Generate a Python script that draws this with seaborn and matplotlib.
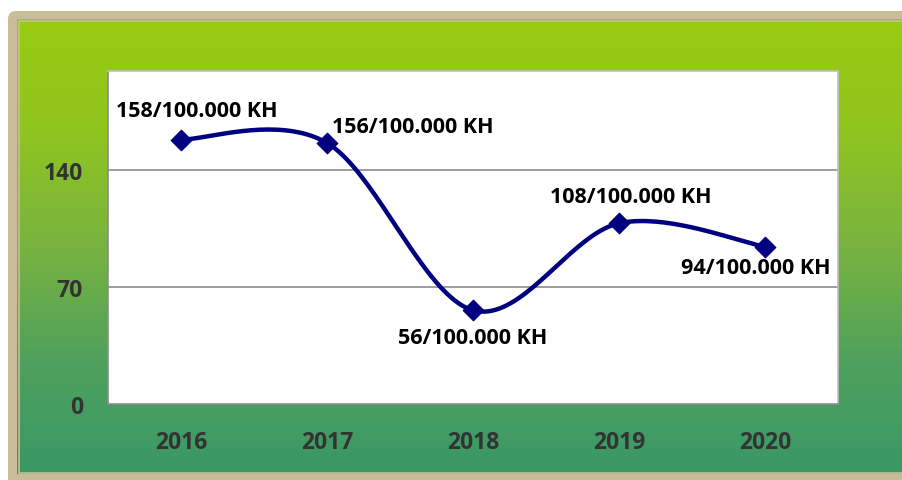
import numpy as np
import pandas as pd
import matplotlib
matplotlib.use("Agg")
import matplotlib.pyplot as plt
import seaborn as sns
from matplotlib.patches import Rectangle, FancyBboxPatch

years = ["2016", "2017", "2018", "2019", "2020"]
rates = [158, 156, 56, 108, 94]
labels = ["158/100.000 KH", "156/100.000 KH", "56/100.000 KH", "108/100.000 KH", "94/100.000 KH"]
yticks = [0, 70, 140]

df = pd.DataFrame({"year": years, "rate": rates})
df["pos"] = np.arange(len(df))

sns.set_theme(style="white")
plt.rcParams["font.family"] = ["Open Sans", "DejaVu Sans"]

W, H = 903, 481
fig = plt.figure(figsize=(W / 100, H / 100), dpi=100)
fig.patch.set_facecolor("white")

# background: frame + gradient
bg = fig.add_axes([0, 0, 1, 1])
bg.set_xlim(0, W)
bg.set_ylim(H, 0)
bg.axis("off")
bg.add_patch(FancyBboxPatch((8, 12), W + 40, H, boxstyle="round,pad=0,rounding_size=8",
                            facecolor="#c8bd96", edgecolor="none"))
grad = np.linspace(0, 1, 256).reshape(-1, 1)
cmap = matplotlib.colors.LinearSegmentedColormap.from_list(
    "g", ["#98cb10", "#90c420", "#78b340", "#4fa15c", "#3a9866"])
bg.imshow(grad, cmap=cmap, extent=[17, W + 10, 475, 20], aspect="auto", zorder=1)
bg.add_patch(Rectangle((19, 22), W, 452, facecolor="none", edgecolor="#c8bd96", lw=1.2, zorder=2))

ax = fig.add_axes([108 / W, (H - 405) / H, 730 / W, (405 - 72) / H])
ax.set_facecolor("white")

# smooth curve (Catmull-Rom through the data points)
def smooth(x, y, n=40):
    x = np.asarray(x, float)
    y = np.asarray(y, float)
    px = np.concatenate([[x[0]], x, [x[-1]]])
    py = np.concatenate([[y[0]], y, [y[-1]]])
    ox, oy = [], []
    for i in range(1, len(px) - 2):
        p0, p1, p2, p3 = (np.array([px[j], py[j]]) for j in range(i - 1, i + 3))
        c1 = p1 + (p2 - p0) / 6
        c2 = p2 - (p3 - p1) / 6
        t = np.linspace(0, 1, n)[:, None]
        b = (1 - t) ** 3 * p1 + 3 * (1 - t) ** 2 * t * c1 + 3 * (1 - t) * t ** 2 * c2 + t ** 3 * p2
        ox.extend(b[:, 0])
        oy.extend(b[:, 1])
    return np.array(ox), np.array(oy)

sx, sy = smooth(df["pos"], df["rate"])
ax.plot(sx, sy, color="#000080", lw=3.2, solid_capstyle="round", zorder=3)
sns.scatterplot(data=df, x="pos", y="rate", marker="D", s=110, color="#000080",
                edgecolor="#000080", ax=ax, zorder=4, legend=False)

offsets = [(16, 29), (86, 16), (0, -27), (12, 27), (-9, -21)]
for i, (lab, (dx, dy)) in enumerate(zip(labels, offsets)):
    ax.annotate(lab, (df["pos"][i], df["rate"][i]), xytext=(dx * 0.72, dy * 0.72),
                textcoords="offset points", ha="center", va="center",
                fontsize=15.5, fontweight="bold", color="black", zorder=5)

ax.set_xlim(-0.5, 4.5)
ax.set_ylim(0, 199)
ax.set_yticks(yticks)
ax.set_xticks(df["pos"])
ax.set_xticklabels(years)
ax.set_xticks(np.arange(-0.5, 5, 1), minor=True)
ax.set_xlabel("")
ax.set_ylabel("")
for t in yticks[1:]:
    ax.axhline(t, color="#8c8c8c", lw=1.2, zorder=1)
ax.tick_params(axis="x", which="major", length=0, pad=19, labelsize=16.5, labelcolor="#333333")
ax.tick_params(axis="x", which="minor", length=7, width=1, color="#8c8c8c", direction="out")
ax.tick_params(axis="y", length=7, width=1, color="#8c8c8c", direction="out",
               pad=11, labelsize=16.5, labelcolor="#333333")
for lab in ax.get_xticklabels() + ax.get_yticklabels():
    lab.set_fontweight("bold")
for side in ["left", "bottom"]:
    ax.spines[side].set_color("#8c8c8c")
    ax.spines[side].set_linewidth(1.2)
for side in ["top", "right"]:
    ax.spines[side].set_color("#c0c0c0")
    ax.spines[side].set_linewidth(1.2)

fig.savefig("out.png", dpi=100)
